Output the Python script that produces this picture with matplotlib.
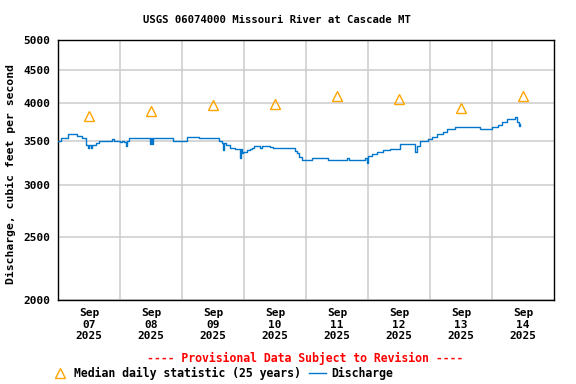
import matplotlib
matplotlib.use('Agg')
import matplotlib.pyplot as plt
from matplotlib.ticker import FixedLocator, NullFormatter, NullLocator

# discharge, hours since 2025-09-07 00:00 and cfs
hours = [0.0, 1.2, 3.9, 7.4, 9.3, 10.8, 11.6, 12.0, 12.8, 13.2, 14.9, 15.9,
         20.9, 21.7, 24.0, 24.8, 25.5, 26.3, 26.7, 27.5, 35.6, 36.0, 36.4, 36.8,
         44.5, 49.9, 51.1, 54.6, 62.3, 63.5, 63.9, 64.3, 64.9, 66.6, 68.5, 70.5,
         70.8, 71.1, 71.7, 73.0, 74.3, 75.0, 75.9, 78.2, 79.0, 82.1, 83.2, 91.7,
         92.4, 93.3, 94.3, 98.3, 104.5, 111.9, 112.6, 118.8, 119.5, 120.1, 121.4,
         123.4, 125.9, 128.5, 132.4, 138.2, 138.8, 140.1, 143.2, 144.8, 146.7,
         149.0, 150.6, 153.7, 163.4, 168.0, 170.3, 171.9, 173.8, 176.9, 177.7,
         178.3, 178.8]
cfs = [3505, 3535, 3585, 3565, 3540, 3450, 3420, 3450, 3420, 3450, 3480, 3505,
       3530, 3505, 3490, 3505, 3490, 3440, 3505, 3540, 3460, 3540, 3460, 3540,
       3505, 3550, 3556, 3536, 3500, 3474, 3393, 3474, 3453, 3421, 3402, 3296,
       3402, 3354, 3373, 3393, 3405, 3421, 3442, 3421, 3442, 3430, 3414, 3383,
       3354, 3314, 3276, 3296, 3276, 3296, 3276, 3296, 3245, 3322, 3342,
       3366, 3393, 3405, 3462, 3366, 3442, 3506, 3527, 3549, 3586,
       3620, 3653, 3676, 3653, 3676, 3706, 3749, 3785, 3808, 3749,
       3697, 3725]

# median daily statistic, one per day at noon
median_hours = [12, 36, 60, 84, 108, 132, 156, 180]
median_cfs = [3825, 3900, 3980, 3995, 4110, 4058, 3928, 4110]

day_labels = ['Sep\n07\n2025', 'Sep\n08\n2025', 'Sep\n09\n2025', 'Sep\n10\n2025',
              'Sep\n11\n2025', 'Sep\n12\n2025', 'Sep\n13\n2025', 'Sep\n14\n2025']
y_ticks = [2000, 2500, 3000, 3500, 4000, 4500, 5000]

W, H = 576, 384
mono = 'DejaVu Sans Mono'

fig = plt.figure(figsize=(W / 100, H / 100), dpi=100)
ax = fig.add_axes([58 / W, 1 - 300 / H, 496 / W, 260 / H])

ax.set_yscale('log')
ax.set_ylim(2000, 5000)
ax.set_xlim(0, 192)

line, = ax.plot(hours, cfs, drawstyle='steps-post', color='#0077cc', lw=1.0,
                zorder=3)
tri, = ax.plot(median_hours, median_cfs, ls='none', marker='^', ms=7.5,
               mfc='none', mec='#ffa500', mew=1.0, zorder=4)

# grid
ax.yaxis.set_major_locator(FixedLocator(y_ticks))
ax.yaxis.set_minor_locator(NullLocator())
ax.set_yticklabels([str(v) for v in y_ticks])
ax.xaxis.set_major_locator(FixedLocator(range(24, 192, 24)))
ax.xaxis.set_major_formatter(NullFormatter())
ax.xaxis.set_minor_locator(FixedLocator(median_hours))
ax.xaxis.set_ticklabels(day_labels, minor=True)
ax.grid(True, which='major', color='#cccccc', lw=1.1)
ax.set_axisbelow(True)

ax.tick_params(axis='both', which='both', length=0)
ax.tick_params(axis='y', pad=5.5, labelsize=8)
ax.tick_params(axis='x', which='minor', pad=6, labelsize=8)
for lab in ax.get_yticklabels() + ax.get_xticklabels(minor=True):
    lab.set_family(mono)
    lab.set_fontweight('bold')
    lab.set_linespacing(1.15)

for s in ax.spines.values():
    s.set_linewidth(1.0)
    s.set_color('black')

fig.text(277 / W, 1 - 20 / H, 'USGS 06074000 Missouri River at Cascade MT',
         ha='center', va='center', family=mono, weight='bold', fontsize=7.7)
fig.text(11 / W, 1 - 174 / H, 'Discharge, cubic feet per second', rotation=90,
         ha='center', va='center', family=mono, weight='bold', fontsize=8.2)
fig.text(305 / W, 1 - 358 / H, '---- Provisional Data Subject to Revision ----',
         ha='center', va='center', family=mono, weight='bold', fontsize=8.3,
         color='red')

fig.legend([tri, line], ['Median daily statistic (25 years)', 'Discharge'],
           loc='center left', bbox_to_anchor=(52 / W, 1 - 373 / H), ncol=2,
           frameon=False, handlelength=1.4, handletextpad=0.5,
           columnspacing=0.75, borderpad=0, borderaxespad=0,
           prop={'family': mono, 'weight': 'bold', 'size': 8.3})

fig.savefig('out.png', dpi=100)
